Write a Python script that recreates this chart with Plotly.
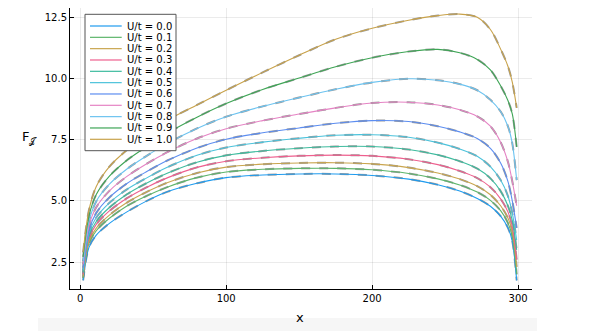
import plotly.graph_objects as go

# sample positions along the chain
x_pts = [2, 6, 11, 20, 32, 45, 60, 80, 100, 125, 150, 175, 200, 225, 245, 260, 272, 281, 288, 293, 296, 299]

u_labels = ["0.0", "0.1", "0.2", "0.3", "0.4", "0.5", "0.6", "0.7", "0.8", "0.9", "1.0"]

f_u00 = [1.75, 3.10, 3.60, 4.08, 4.55, 4.98, 5.38, 5.72, 5.95, 6.06, 6.10, 6.10, 6.04, 5.89, 5.66, 5.40, 5.10, 4.78, 4.38, 3.90, 3.35, 1.75]
f_u01 = [1.85, 3.27, 3.78, 4.29, 4.79, 5.19, 5.57, 5.95, 6.18, 6.29, 6.33, 6.33, 6.27, 6.12, 5.90, 5.65, 5.36, 5.02, 4.60, 4.10, 3.55, 2.00]
f_u02 = [1.91, 3.35, 3.89, 4.42, 4.93, 5.35, 5.75, 6.14, 6.38, 6.50, 6.55, 6.56, 6.51, 6.36, 6.14, 5.89, 5.60, 5.25, 4.80, 4.30, 3.75, 2.30]
f_u03 = [2.00, 3.46, 4.04, 4.59, 5.11, 5.54, 5.95, 6.37, 6.62, 6.76, 6.84, 6.87, 6.84, 6.70, 6.48, 6.22, 5.93, 5.56, 5.08, 4.55, 3.95, 2.60]
f_u04 = [2.07, 3.56, 4.16, 4.73, 5.27, 5.71, 6.14, 6.58, 6.86, 7.04, 7.15, 7.22, 7.22, 7.10, 6.88, 6.62, 6.32, 5.92, 5.40, 4.80, 4.20, 3.00]
f_u05 = [2.16, 3.67, 4.32, 4.92, 5.47, 5.92, 6.38, 6.86, 7.18, 7.40, 7.56, 7.68, 7.70, 7.60, 7.38, 7.12, 6.82, 6.40, 5.85, 5.20, 4.50, 3.40]
f_u06 = [2.27, 3.81, 4.51, 5.14, 5.71, 6.18, 6.66, 7.16, 7.52, 7.78, 7.98, 8.17, 8.28, 8.24, 8.05, 7.82, 7.55, 7.15, 6.55, 5.80, 5.00, 3.90]
f_u07 = [2.41, 3.99, 4.74, 5.41, 6.00, 6.50, 7.00, 7.55, 7.95, 8.28, 8.55, 8.80, 9.00, 9.03, 8.92, 8.72, 8.45, 8.05, 7.40, 6.60, 5.80, 4.80]
f_u08 = [2.54, 4.17, 4.98, 5.68, 6.30, 6.82, 7.36, 7.96, 8.44, 8.86, 9.22, 9.56, 9.84, 9.99, 9.93, 9.77, 9.52, 9.13, 8.65, 8.05, 7.35, 5.85]
f_u09 = [2.71, 4.38, 5.26, 6.01, 6.66, 7.20, 7.78, 8.42, 8.98, 9.55, 10.02, 10.48, 10.85, 11.10, 11.19, 11.05, 10.78, 10.35, 9.70, 9.10, 8.55, 7.20]
f_u10 = [2.90, 4.63, 5.59, 6.40, 7.08, 7.66, 8.30, 8.92, 9.52, 10.25, 10.95, 11.60, 12.05, 12.38, 12.57, 12.63, 12.50, 12.00, 11.20, 10.50, 9.85, 8.80]

series = [f_u00, f_u01, f_u02, f_u03, f_u04, f_u05, f_u06, f_u07, f_u08, f_u09, f_u10]

colors = ["#1E9BEF", "#5DB56B", "#C9A54E", "#EE5F8E", "#3DBB9E", "#4BC2DB",
          "#5C8DF0", "#E583C4", "#6CC3F0", "#3FA556", "#C8A24A"]

fig = go.Figure()

# gray dashed fits underneath
for ys in series:
    fig.add_trace(go.Scatter(
        x=x_pts, y=ys, mode="lines",
        line=dict(color="rgba(120,120,120,0.75)", width=2, dash="dash",
                  shape="spline", smoothing=0.9),
        hoverinfo="skip", showlegend=False,
    ))

for lab, ys, col in zip(u_labels, series, colors):
    fig.add_trace(go.Scatter(
        x=x_pts, y=ys, mode="lines", name=f"U/t = {lab}",
        line=dict(color=col, width=1.1, shape="spline", smoothing=0.9),
        showlegend=False,
    ))

# page has an 8px body margin: figure is 581x323, plot box 62..524 x 0..281
W, H = 581, 323
L, R, T, B = 62, 57, 0, 42
PW, PH = W - L - R, H - T - B


def px(xp):
    return (xp - 8 - L) / PW


def py(yp):
    return (H - B - (yp - 8)) / PH


# hand-drawn legend box in the Plots.jl style
shapes = [dict(type="rect", xref="paper", yref="paper", x0=px(85), x1=px(176),
               y0=py(150.7), y1=py(14.3), line=dict(color="#555555", width=1),
               fillcolor="white", layer="above")]
annotations = []
for i, (lab, col) in enumerate(zip(u_labels, colors)):
    yp = py(26 + 11.33 * i)
    shapes.append(dict(type="line", xref="paper", yref="paper", x0=px(90), x1=px(121.7),
                       y0=yp, y1=yp, line=dict(color=col, width=1.2), layer="above"))
    annotations.append(dict(xref="paper", yref="paper", x=px(124.5), y=yp, text=f"U/t = {lab}",
                            showarrow=False, xanchor="left", yanchor="middle",
                            font=dict(size=10, color="black")))

# faint strip at the bottom of the screenshot
shapes.append(dict(type="rect", xref="paper", yref="paper", x0=px(38), x1=px(537),
                   y0=py(331), y1=py(318), line=dict(width=0), fillcolor="#f6f6f6", layer="below"))

annotations.append(dict(xref="paper", yref="paper", x=px(300), y=py(317), text="x",
                        showarrow=False, xanchor="center", yanchor="middle",
                        font=dict(size=13, color="black")))
annotations.append(dict(xref="paper", yref="paper", x=px(29), y=py(137), text="F<sub>𝒥</sub>",
                        showarrow=False, xanchor="center", yanchor="middle",
                        font=dict(size=13, color="black")))

fig.update_layout(
    width=W, height=H,
    margin=dict(l=L, r=R, t=T, b=B),
    plot_bgcolor="white", paper_bgcolor="white",
    font=dict(family="DejaVu Sans", size=10, color="black"),
    shapes=shapes, annotations=annotations,
    showlegend=False,
)
fig.update_xaxes(range=[-7, 309.5], tickvals=[0, 100, 200, 300], showgrid=True,
                 gridcolor="rgba(0,0,0,0.08)", gridwidth=0.6, zeroline=False,
                 showline=True, linecolor="black", linewidth=1, ticks="inside",
                 ticklen=4, tickcolor="black")
fig.update_yaxes(range=[1.40, 12.88], tickvals=[2.5, 5.0, 7.5, 10.0, 12.5],
                 ticktext=["2.5", "5.0", "7.5", "10.0", "12.5"], showgrid=True,
                 gridcolor="rgba(0,0,0,0.08)", gridwidth=0.6, zeroline=False,
                 showline=True, linecolor="black", linewidth=1, ticks="inside",
                 ticklen=4, tickcolor="black")

fig.write_html("out.html")
